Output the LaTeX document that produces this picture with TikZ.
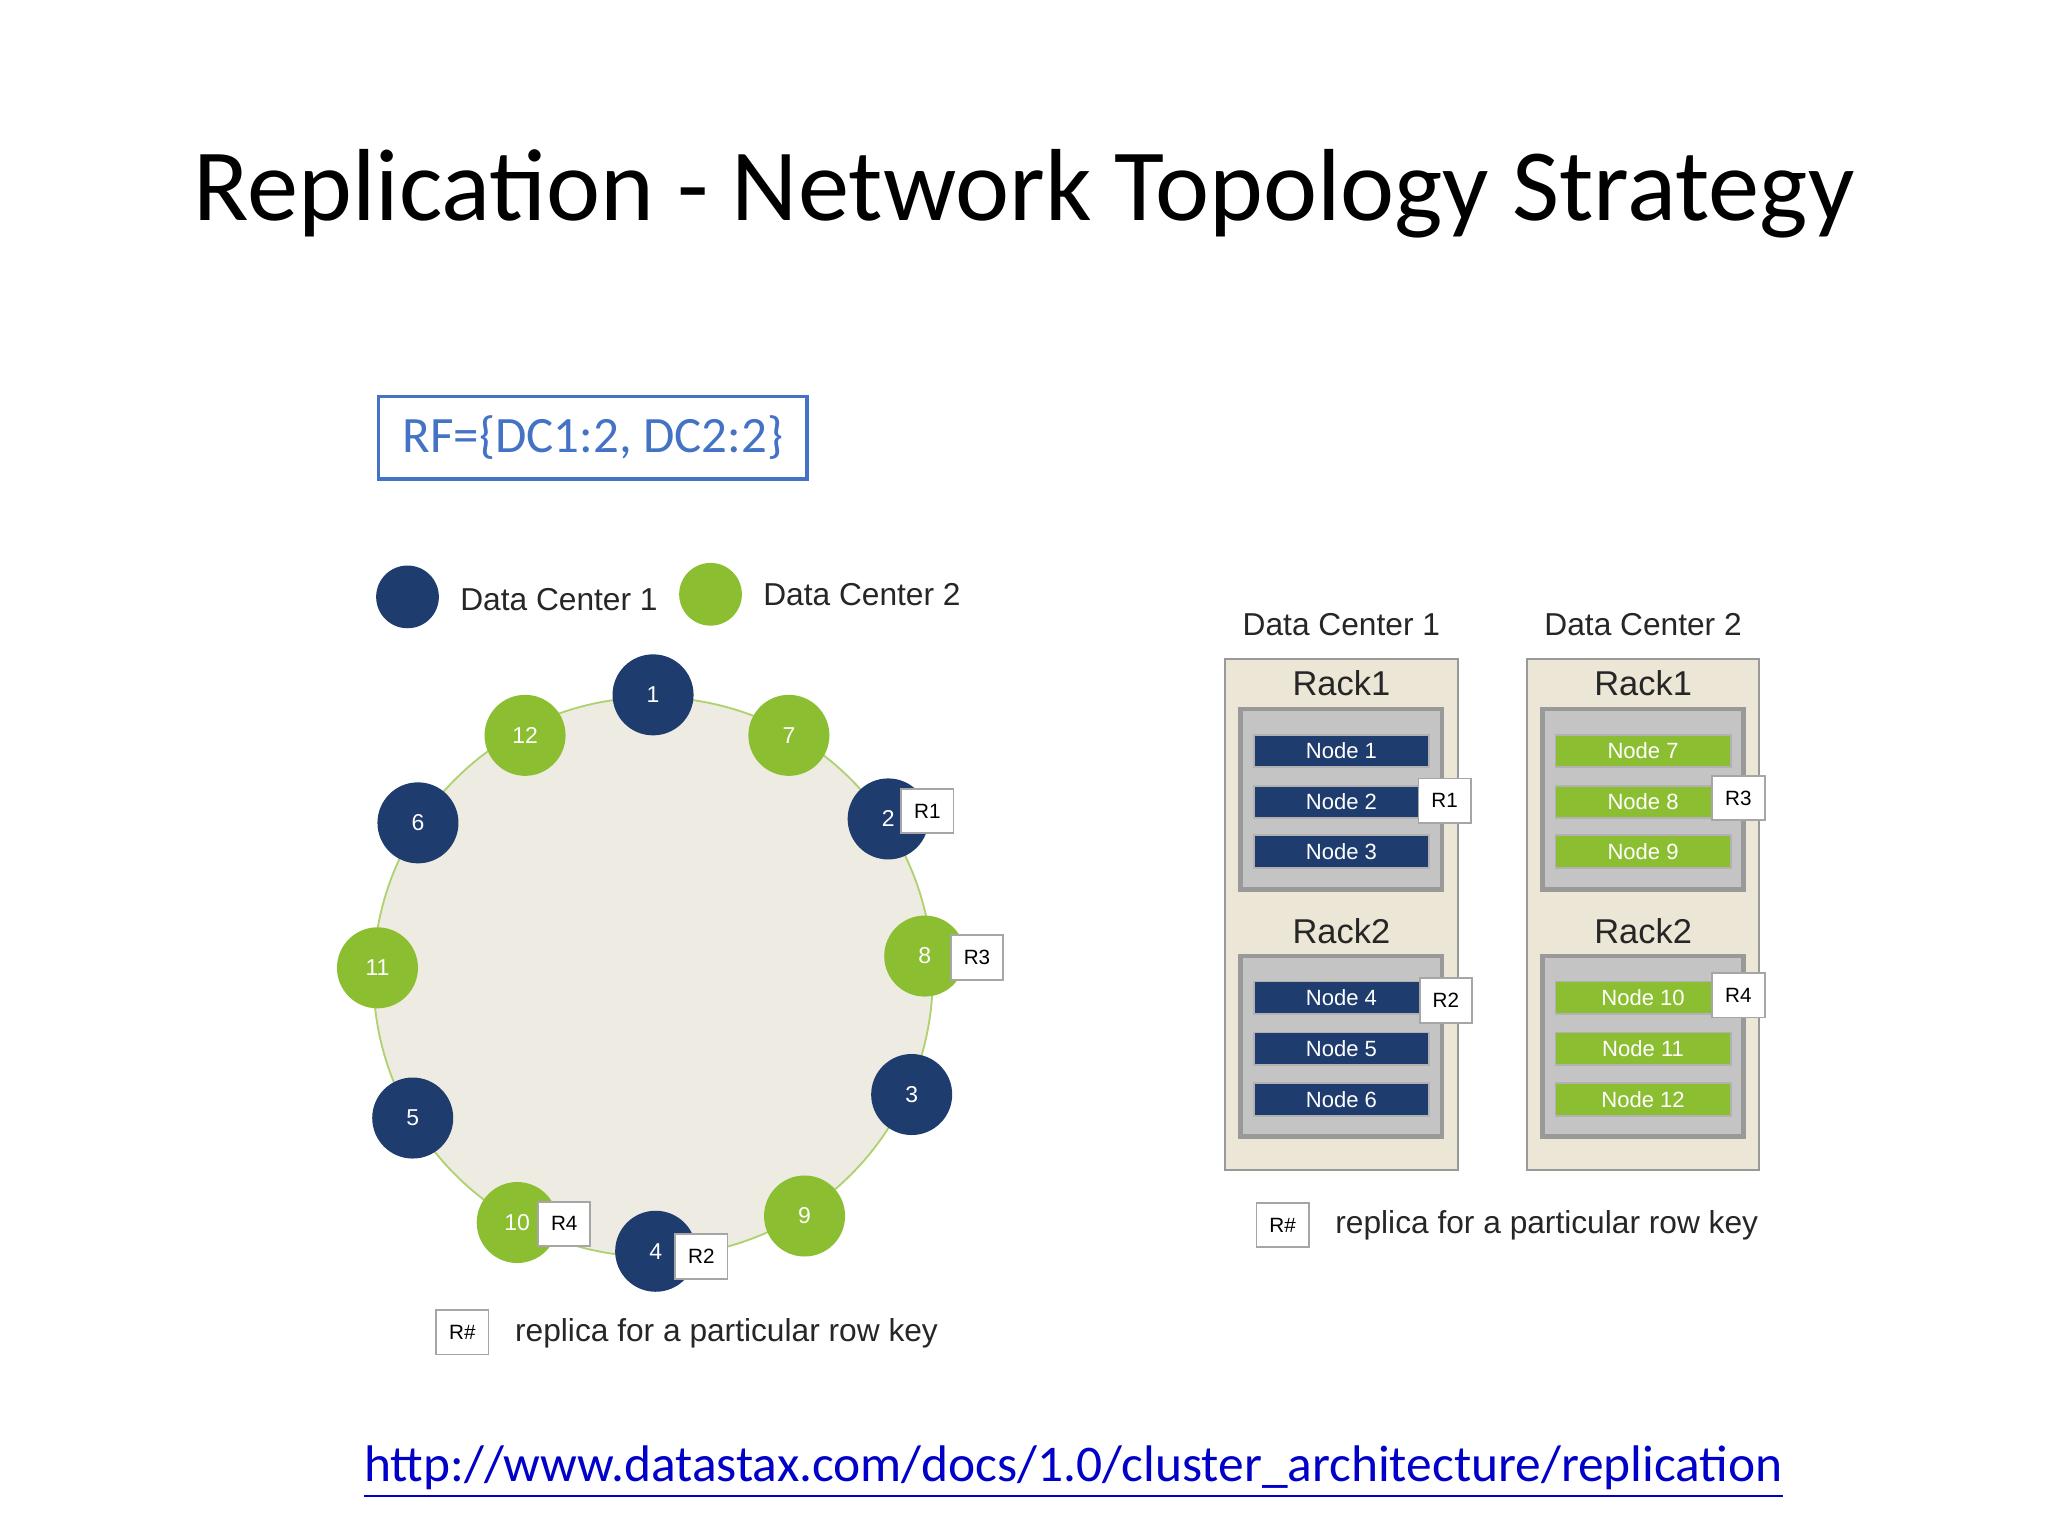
\documentclass[tikz,border=0pt]{standalone}
\usepackage{fontspec}
\setmainfont{Carlito}
\newfontfamily\arialish{Liberation Sans}
\usetikzlibrary{positioning}
\definecolor{dcblue}{RGB}{30,60,110}
\definecolor{dcgreen}{RGB}{140,190,50}
\definecolor{ringfill}{RGB}{238,236,226}
\definecolor{colfill}{RGB}{236,230,214}
\definecolor{rackfill}{RGB}{196,196,196}
\definecolor{rfblue}{RGB}{68,114,196}
\definecolor{urlblue}{RGB}{0,0,200}
\tikzset{
  dot/.style={circle,minimum size=0.62cm,inner sep=0pt,text=white,font=\arialish\fontsize{5}{6}\selectfont},
  tag/.style={draw=gray!70,fill=white,minimum width=0.40cm,minimum height=0.34cm,inner sep=0pt,font=\arialish\fontsize{4.5}{5}\selectfont},
  bar/.style={draw=gray!60,minimum width=1.34cm,minimum height=0.25cm,inner sep=0pt,text=white,font=\arialish\fontsize{4.8}{5}\selectfont},
  lbl/.style={font=\arialish\fontsize{6.9}{8}\selectfont,text=black!85},
}
\begin{document}
\begin{tikzpicture}[x=0.01cm,y=-0.01cm]
\useasboundingbox (0,0) rectangle (1568,1176);
% title
\node (title) at (784,148) {\fontsize{22.3}{26}\selectfont Replication - Network Topology Strategy};
\node[draw=rfblue,thick,text=rfblue,minimum width=3.28cm,minimum height=0.63cm,font=\fontsize{11.1}{13}\selectfont] (rf) at (454,335) {RF=\{DC1:2, DC2:2\}};

% legend
\node[dot,fill=dcblue,minimum size=0.48cm] (lgA) at (312,457) {};
\node[lbl,anchor=west] (lgAt) at (340,459) {Data Center 1};
\node[dot,fill=dcgreen,minimum size=0.48cm] (lgB) at (544,455) {};
\node[lbl,anchor=west] (lgBt) at (572,455) {Data Center 2};

% ring
\draw[fill=ringfill,draw=dcgreen!70] (500,748) circle (2.14cm);
\foreach \n/\x/\y/\c in {1/500/532/dcblue,7/604/563/dcgreen,2/680/627/dcblue,8/708/732/dcgreen,
  3/698/838/dcblue,9/616/931/dcgreen,4/502/958/dcblue,10/396/936/dcgreen,5/316/856/dcblue,
  11/289/741/dcgreen,6/320/630/dcblue,12/402/563/dcgreen}
  \node[dot,fill=\c] (r\n) at (\x,\y) {\n};
\node[tag] (t1) at (710,621) {R1};
\node[tag] (t3) at (748,733) {R3};
\node[tag] (t2) at (537,962) {R2};
\node[tag] (t4) at (432,937) {R4};
\node[tag] (lgR) at (354,1020) {R\#};
\node[lbl,anchor=west] (lgRt) at (382,1021) {replica for a particular row key};

% data center columns
\foreach \d/\x/\lo/\c in {1/1027/1/dcblue,2/1258/7/dcgreen}{
  \node[draw=gray!80,fill=colfill,minimum width=1.78cm,minimum height=3.91cm,inner sep=0pt] (dc\d) at (\x,700) {};
  \node[lbl] (dc\d t) at (\x,478) {Data Center \d};
  \node[lbl,font=\arialish\fontsize{7.5}{9}\selectfont] (dc\d a) at (\x,523) {Rack1};
  \node[lbl,font=\arialish\fontsize{7.5}{9}\selectfont] (dc\d b) at (\x,713) {Rack2};
  \node[draw=gray!80,line width=1pt,fill=rackfill,minimum width=1.54cm,minimum height=1.38cm,inner sep=0pt] (rk\d a) at (\x,612) {};
  \node[draw=gray!80,line width=1pt,fill=rackfill,minimum width=1.54cm,minimum height=1.38cm,inner sep=0pt] (rk\d b) at (\x,801) {};
  \foreach \k/\y in {0/575,1/614,2/652,3/764,4/803,5/842}{
    \pgfmathtruncatemacro\num{\lo+\k}
    \node[bar,fill=\c] (n\num) at (\x,\y) {Node \num};
  }
}
\node[tag] (u1) at (1106,613) {R1};
\node[tag] (u2) at (1107,766) {R2};
\node[tag] (u3) at (1331,611) {R3};
\node[tag] (u4) at (1331,762) {R4};
\node[tag] (lgS) at (982,938) {R\#};
\node[lbl,anchor=west] (lgSt) at (1010,938) {replica for a particular row key};

% source
\node[text=urlblue,font=\fontsize{11.2}{13}\selectfont] (url) at (822,1127) {\underline{http://www.datastax.com/docs/1.0/cluster\_architecture/replication}};
\end{tikzpicture}
\end{document}
